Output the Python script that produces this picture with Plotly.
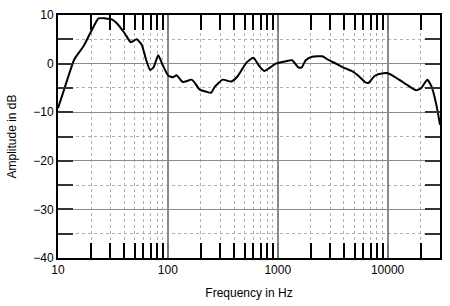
import math
import plotly.graph_objects as go

# Frequency response
freq_hz = [10, 11.3, 14.1, 17.1, 20, 23.4, 27, 30.9, 34.3, 40, 46, 52, 57.8, 63, 68.8,
           74, 81.7, 90.6, 101, 112, 120, 137, 164, 174, 194, 224, 248, 267, 316, 377,
           432, 519, 600, 679, 754, 840, 960, 1190, 1350, 1550, 1650, 1800, 2060, 2540,
           2920, 3460, 4120, 4720, 5420, 6230, 6670, 7660, 9120, 10100, 12500, 15300,
           18200, 20300, 23000, 25200, 27800, 30000]
amp_db = [-9.2, -5.5, 0.9, 3.6, 6.6, 9.3, 9.3, 9.1, 8.3, 6.4, 4.4, 5.0, 3.9, 1.0, -1.3,
          -0.8, 1.7, -0.5, -2.5, -2.8, -2.4, -3.8, -3.3, -3.8, -5.3, -5.8, -6.0, -4.8, -3.3, -3.7,
          -2.6, 0.2, 1.2, -0.5, -1.5, -0.9, 0.0, 0.5, 0.7, -0.8, -0.8, 0.7, 1.4, 1.5,
          0.7, -0.1, -1.0, -1.5, -2.5, -3.8, -4.0, -2.5, -2.0, -2.0, -3.2, -4.5,
          -5.5, -5.0, -3.3, -4.8, -8.5, -12.6]

x_major = [10, 100, 1000, 10000]
x_major_text = ["10", "100", "1000", "10000"]
x_minor = [20, 30, 40, 50, 60, 70, 80, 90,
           200, 300, 400, 500, 600, 700, 800, 900,
           2000, 3000, 4000, 5000, 6000, 7000, 8000, 9000, 20000]
y_major = [-40, -30, -20, -10, 0, 10]
y_minor = [-35, -25, -15, -5, 5]

fig = go.Figure(go.Scatter(x=freq_hz, y=amp_db, mode="lines",
                           line=dict(color="black", width=2, shape="spline", smoothing=0.5),
                           showlegend=False, hoverinfo="skip"))

font = dict(family="Liberation Sans, Arial, sans-serif", size=12, color="black")

fig.update_layout(
    width=450, height=306,
    margin=dict(l=58, r=8, t=11, b=47),
    paper_bgcolor="white", plot_bgcolor="white",
    font=font,
    xaxis=dict(
        type="log", range=[1, math.log10(30000)],
        tickmode="array", tickvals=x_major, ticktext=x_major_text,
        showgrid=True, gridcolor="#8a8a8a", gridwidth=1.5,
        ticks="inside", ticklen=15, tickcolor="#777", tickwidth=1.5,
        showline=True, linecolor="black", linewidth=2, mirror="allticks",
        zeroline=False,
        minor=dict(tickvals=x_minor, ticks="inside", ticklen=15, tickcolor="black",
                   tickwidth=1.5, showgrid=True, gridcolor="#b0b0b0",
                   griddash="dot", gridwidth=1),
        title=dict(text="Frequency in Hz", standoff=12, font=font),
        tickfont=font,
    ),
    yaxis=dict(
        range=[-40, 10],
        tickmode="array", tickvals=y_major,
        showgrid=True, gridcolor="#8a8a8a", gridwidth=1,
        ticks="inside", ticklen=15, tickcolor="#333", tickwidth=1.5,
        showline=True, linecolor="black", linewidth=2, mirror="allticks",
        zeroline=False,
        minor=dict(tickvals=y_minor, ticks="inside", ticklen=15, tickcolor="#333",
                   tickwidth=1.5, showgrid=True, gridcolor="#b0b0b0",
                   griddash="dot", gridwidth=1),
        title=dict(text="Amplitude in dB", standoff=14, font=font),
        tickfont=font,
    ),
)

fig.write_html("out.html")
